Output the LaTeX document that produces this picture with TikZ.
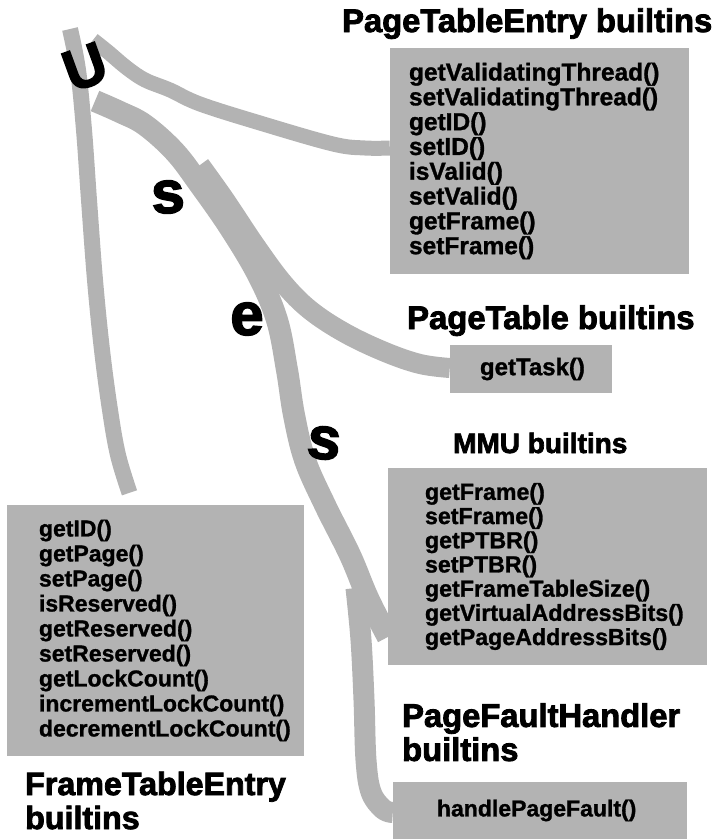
\documentclass[tikz,border=0pt]{standalone}
\usepackage{fontspec}
\setmainfont{Liberation Sans}
\newfontfamily\heavyfont{Liberation Sans Bold}[FakeBold=2.5]
\newfontfamily\itemfamily{Liberation Sans Bold}[FakeBold=1.2]
\definecolor{bandgray}{HTML}{B3B3B3}
\tikzset{
  band/.style={draw=bandgray, line width=#1, line cap=butt, line join=round},
  band/.default=18pt,
  box/.style={fill=bandgray, draw=none, inner ysep=0pt, align=left, anchor=center},
  titletext/.style={inner sep=0pt, align=left, font={\heavyfont\fontsize{#1}{34}\selectfont}},
  bigletter/.style={inner sep=0pt, font={\heavyfont\fontsize{#1}{#1}\selectfont}},
}
\begin{document}
\begin{tikzpicture}[x=1pt,y=-1pt]
\useasboundingbox (0,0) rectangle (718,839);

% boxes
\node[box, minimum width=299pt, minimum height=226pt, text width=261pt, inner xsep=19pt,
      font={\itemfamily\fontsize{24.5}{24.8}\selectfont}] (pte) at (539.5,161)
  {getValidatingThread()\\setValidatingThread()\\getID()\\setID()\\isValid()\\setValid()\\getFrame()\\setFrame()};
\node[box, minimum width=162pt, minimum height=48pt, text width=102pt, inner xsep=30pt,
      font={\itemfamily\fontsize{24}{24}\selectfont}] (pt) at (531,369) {getTask()};
\node[box, minimum width=319pt, minimum height=197pt, text width=245pt, inner xsep=37pt,
      font={\itemfamily\fontsize{23.2}{24.2}\selectfont}] (mmu) at (547.5,566.5)
  {getFrame()\\setFrame()\\getPTBR()\\setPTBR()\\getFrameTableSize()\\getVirtualAddressBits()\\getPageAddressBits()};
\node[box, minimum width=297pt, minimum height=251pt, text width=233pt, inner xsep=32pt,
      font={\itemfamily\fontsize{23}{25}\selectfont}] (fte) at (155.5,630.5)
  {getID()\\getPage()\\setPage()\\isReserved()\\getReserved()\\setReserved()\\getLockCount()\\incrementLockCount()\\decrementLockCount()};
\node[box, minimum width=294pt, minimum height=57pt, text width=206pt, inner xsep=44pt,
      font={\itemfamily\fontsize{23}{23}\selectfont}] (pfh) at (540,810.5) {handlePageFault()};

% free ends of the connectors
\coordinate (aStart) at (70,29);
\coordinate (bStart) at (93,40);
\coordinate (cStart) at (200,165);
\coordinate (dStart) at (95,101);
\coordinate (eStart) at (356,588);

% connectors
\draw[band=16pt] plot[smooth, tension=0.6] coordinates {(aStart) (78,70) (84,130) (89,200) (95,280) (102,350) (110,410) (118,455) ([xshift=-26pt,yshift=12pt]fte.north)};
\draw[band=15pt] plot[smooth, tension=0.6] coordinates {(bStart) (108,52) (127,68) (145,80) (170,90) (200,104) (260,123) (333,144) (365,148) ([yshift=13pt]pte.west)};
\draw[band=20pt] plot[smooth, tension=0.6] coordinates {(cStart) (225,200) (255,245) (283,283) (310,310) (345,333) (385,352) (420,364) ([yshift=1pt]pt.west)};
\draw[band=22pt] plot[smooth, tension=0.6] coordinates {(dStart) (120,112) (145,125) (175,152) (200,185) (230,228) (258,275) (277,320) (287,370) (294,415) (305,460) (325,505) (350,555) (368,598) ([yshift=-70.5pt]mmu.west)};
\draw[band=21pt] plot[smooth, tension=0.6] coordinates {(eStart) (361,640) (364,700) (366,760) (371,792) (383,809) ([yshift=-2pt]pfh.west)};

% titles
\node[titletext=32.7, anchor=base west] (ptetitle) at (342,32) {PageTableEntry builtins};
\node[titletext=32.8, anchor=base west] (pttitle) at (407,329) {PageTable builtins};
\node[titletext=28, anchor=base west] (mmutitle) at (453,453) {MMU builtins};
\node[titletext=32.7, anchor=north west] (pfhtitle) at (402,703) {PageFaultHandler\\builtins};
\node[titletext=32.2, anchor=north west] (ftetitle) at (25,771.5) {FrameTableEntry\\builtins};

% big letters along the connector
\node[bigletter=58, rotate=20] (lu) at (85,67) {U};
\node[bigletter=60, rotate=3] (ls1) at (168,197) {s};
\node[bigletter=60] (le) at (247,319) {e};
\node[bigletter=60, rotate=-6] (ls2) at (324,443) {s};
\end{tikzpicture}
\end{document}
